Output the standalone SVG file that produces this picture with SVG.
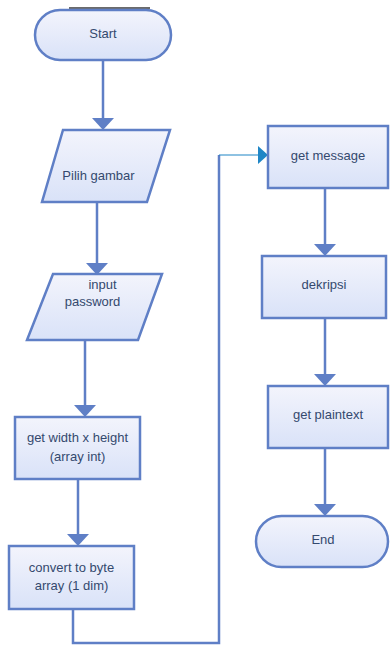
<svg xmlns="http://www.w3.org/2000/svg" width="390" height="646" viewBox="0 0 390 646">
  <defs>
    <linearGradient id="fillGrad" x1="0" y1="0" x2="0" y2="1">
      <stop offset="0" stop-color="#f3f4fc"/>
      <stop offset="1" stop-color="#d9e2f8"/>
    </linearGradient>
    <style>
      .shape { fill: url(#fillGrad); stroke: #5f7fc6; stroke-width: 2.5; }
      .label { font-family: "Liberation Sans", Arial, sans-serif; font-size: 13px; fill: #34496e; text-anchor: middle; }
      .line { fill: none; stroke: #5f7fc6; stroke-width: 2.5; }
      .head { fill: #5f7fc6; }
      .thin { fill: none; stroke: #1f86c6; stroke-width: 1.2; }
    </style>
  </defs>
  <rect width="390" height="646" fill="#ffffff"/>

  <!-- rule above the start terminal -->
  <line x1="69" y1="8" x2="150" y2="8" stroke="#3a3a3a" stroke-width="1.5"/>

  <!-- connectors -->
  <g id="connectors">
    <line class="line" x1="103" y1="60" x2="103" y2="120"/>
    <polygon class="head" points="92,118 114,118 103,130"/>

    <line class="line" x1="97" y1="202" x2="97" y2="265"/>
    <polygon class="head" points="86,263 108,263 97,275"/>

    <line class="line" x1="85" y1="340" x2="85" y2="407"/>
    <polygon class="head" points="74,405 96,405 85,417"/>

    <line class="line" x1="78" y1="479" x2="78" y2="536"/>
    <polygon class="head" points="67,534 89,534 78,546"/>

    <polyline class="line" points="73,609 73,643 219,643 219,155"/>
    <line class="thin" x1="219" y1="155" x2="259" y2="155"/>
    <polygon fill="#1f86c6" points="258,146 268,155 258,164"/>

    <line class="line" x1="325" y1="188" x2="325" y2="246"/>
    <polygon class="head" points="314,244 336,244 325,256"/>

    <line class="line" x1="325" y1="318" x2="325" y2="376"/>
    <polygon class="head" points="314,374 336,374 325,386"/>

    <line class="line" x1="325" y1="448" x2="325" y2="506"/>
    <polygon class="head" points="314,504 336,504 325,516"/>
  </g>

  <!-- nodes -->
  <g id="start">
    <rect class="shape" x="35" y="10" width="136" height="50" rx="25" ry="25"/>
    <text class="label" x="103" y="38">Start</text>
  </g>

  <g id="pilih-gambar">
    <polygon class="shape" points="63,130 170,130 147,202 42,202"/>
    <text class="label" x="98.5" y="180">Pilih gambar</text>
  </g>

  <g id="input-password">
    <polygon class="shape" points="53,274 162,274 138,340 27,340"/>
    <text class="label" x="102.5" y="289">input</text>
    <text class="label" x="92.5" y="306">password</text>
  </g>

  <g id="get-width-height">
    <rect class="shape" x="15" y="417" width="125" height="62"/>
    <text class="label" x="77.5" y="442">get width x height</text>
    <text class="label" x="77.5" y="461">(array int)</text>
  </g>

  <g id="convert-byte">
    <rect class="shape" x="9" y="546" width="125" height="63"/>
    <text class="label" x="71.5" y="572">convert to byte</text>
    <text class="label" x="71.5" y="590">array (1 dim)</text>
  </g>

  <g id="get-message">
    <rect class="shape" x="268" y="126" width="120" height="62"/>
    <text class="label" x="328" y="160">get message</text>
  </g>

  <g id="dekripsi">
    <rect class="shape" x="262" y="256" width="124" height="62"/>
    <text class="label" x="324" y="289">dekripsi</text>
  </g>

  <g id="get-plaintext">
    <rect class="shape" x="268" y="386" width="120" height="62"/>
    <text class="label" x="328" y="419">get plaintext</text>
  </g>

  <g id="end">
    <rect class="shape" x="256" y="516" width="132" height="51" rx="25.5" ry="25.5"/>
    <text class="label" x="323" y="544">End</text>
  </g>
</svg>
